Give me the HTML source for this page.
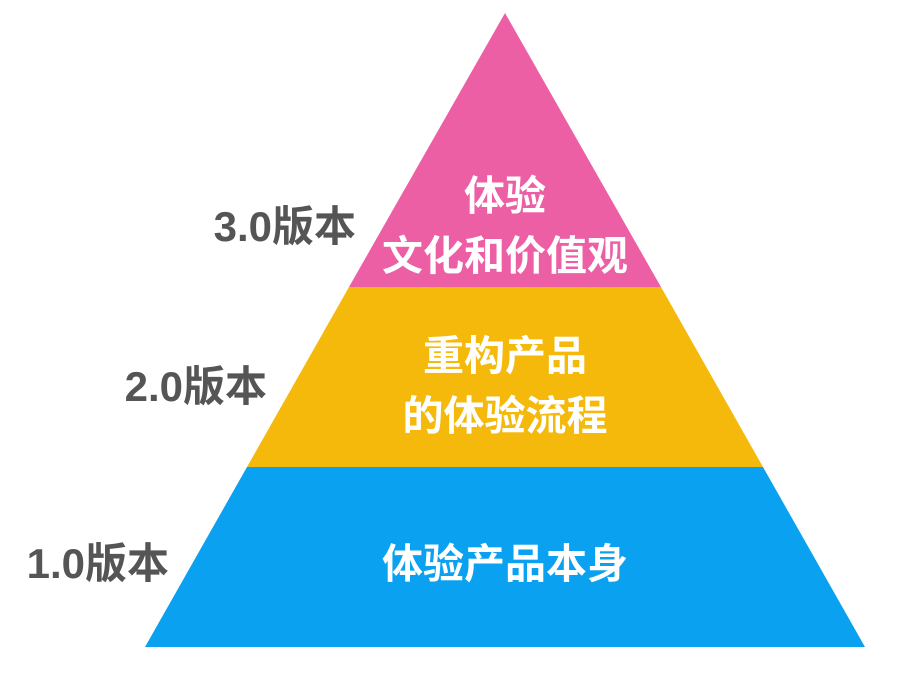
<!DOCTYPE html>
<html><head><meta charset="utf-8"><style>
body{margin:0;width:905px;height:679px;background:#fff;overflow:hidden}
svg text{font-family:"Liberation Sans","Noto Sans CJK SC",sans-serif;font-weight:bold}
</style></head><body>
<svg width="905" height="679" viewBox="0 0 905 679">
<polygon points="505,13 661,287 349,287" fill="#EC5FA5"/>
<polygon points="349,287 661,287 763,467 247,467" fill="#F4B90B"/>
<polygon points="247,467 763,467 865,647 145,647" fill="#0BA1F1"/>
<g fill="#fff" font-size="41" text-anchor="middle">
<text x="505" y="210">体验</text>
<text x="505" y="270">文化和价值观</text>
<text x="505" y="370">重构产品</text>
<text x="505" y="430">的体验流程</text>
<text x="505" y="578">体验产品本身</text>
</g>
<g fill="#555" font-size="42" text-anchor="end">
<text x="356" y="241">3.0版本</text>
<text x="267" y="401">2.0版本</text>
<text x="169" y="578">1.0版本</text>
</g>
</svg>
</body></html>
